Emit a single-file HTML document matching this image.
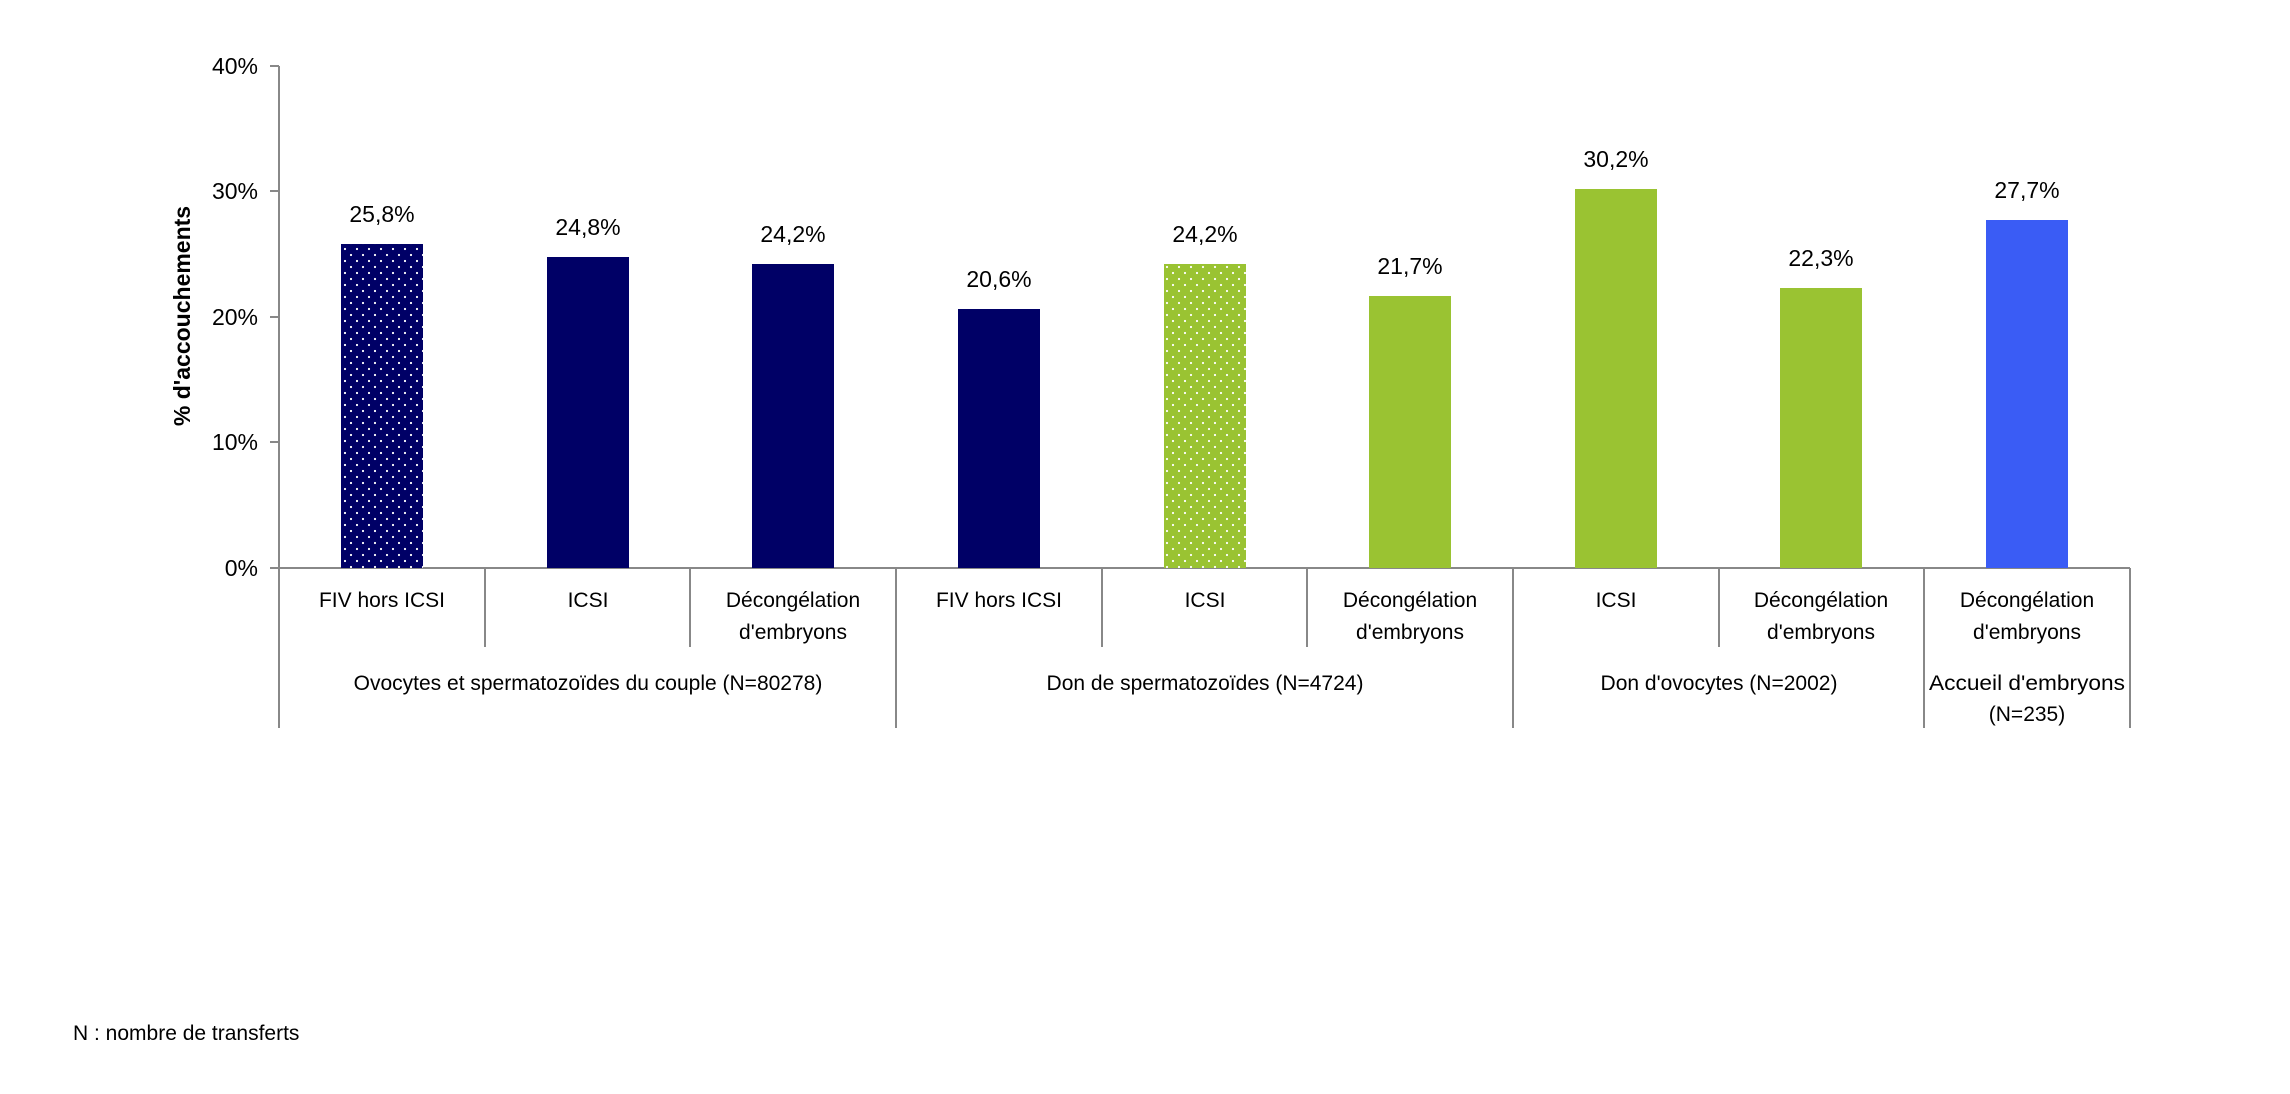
<!DOCTYPE html>
<html><head><meta charset="utf-8"><style>
html,body{margin:0;padding:0;background:#fff;width:2290px;height:1094px;overflow:hidden}
svg{display:block}
text{font-family:"Liberation Sans",sans-serif;fill:#000}
</style></head><body>
<svg width="2290" height="1094" viewBox="0 0 2290 1094" xmlns="http://www.w3.org/2000/svg">
<defs>
<pattern id="pn" width="12" height="12" patternUnits="userSpaceOnUse">
<rect width="12" height="12" fill="#000066"/>
<circle cx="3" cy="3" r="1.1" fill="#fff"/><circle cx="9" cy="9" r="1.1" fill="#fff"/>
</pattern>
<pattern id="pg" width="12" height="12" patternUnits="userSpaceOnUse">
<rect width="12" height="12" fill="#9AC332"/>
<circle cx="3" cy="3" r="1.1" fill="#fff"/><circle cx="9" cy="9" r="1.1" fill="#fff"/>
</pattern>
</defs>
<g stroke="#888" stroke-width="2" fill="none">
<line x1="279" y1="66" x2="279" y2="728"/>
<line x1="270" y1="66" x2="279" y2="66"/>
<line x1="270" y1="191" x2="279" y2="191"/>
<line x1="270" y1="317" x2="279" y2="317"/>
<line x1="270" y1="442" x2="279" y2="442"/>
<line x1="270" y1="568" x2="2130" y2="568"/>
<line x1="485" y1="568" x2="485" y2="647"/>
<line x1="690" y1="568" x2="690" y2="647"/>
<line x1="896" y1="568" x2="896" y2="728"/>
<line x1="1102" y1="568" x2="1102" y2="647"/>
<line x1="1307" y1="568" x2="1307" y2="647"/>
<line x1="1513" y1="568" x2="1513" y2="728"/>
<line x1="1719" y1="568" x2="1719" y2="647"/>
<line x1="1924" y1="568" x2="1924" y2="728"/>
<line x1="2130" y1="568" x2="2130" y2="728"/>
</g>
<g font-size="23" text-anchor="end">
<text x="258" y="74">40%</text>
<text x="258" y="199">30%</text>
<text x="258" y="325">20%</text>
<text x="258" y="450">10%</text>
<text x="258" y="576">0%</text>
</g>
<text x="0" y="0" font-size="23" font-weight="bold" text-anchor="middle" transform="translate(190,316) rotate(-90)">% d'accouchements</text>
<g>
<rect x="341" y="244" width="82" height="324" fill="url(#pn)"/>
<rect x="547" y="257" width="82" height="311" fill="#000066"/>
<rect x="752" y="264" width="82" height="304" fill="#000066"/>
<rect x="958" y="309" width="82" height="259" fill="#000066"/>
<rect x="1164" y="264" width="82" height="304" fill="url(#pg)"/>
<rect x="1369" y="296" width="82" height="272" fill="#9AC332"/>
<rect x="1575" y="189" width="82" height="379" fill="#9AC332"/>
<rect x="1780" y="288" width="82" height="280" fill="#9AC332"/>
<rect x="1986" y="220" width="82" height="348" fill="#3A5CF5"/>
</g>
<g font-size="23" text-anchor="middle">
<text x="382" y="222">25,8%</text>
<text x="588" y="235">24,8%</text>
<text x="793" y="242">24,2%</text>
<text x="999" y="287">20,6%</text>
<text x="1205" y="242">24,2%</text>
<text x="1410" y="274">21,7%</text>
<text x="1616" y="167">30,2%</text>
<text x="1821" y="266">22,3%</text>
<text x="2027" y="198">27,7%</text>
</g>
<g font-size="21" text-anchor="middle">
<text x="382" y="607">FIV hors ICSI</text>
<text x="588" y="607">ICSI</text>
<text x="793" y="607">Décongélation</text>
<text x="793" y="639">d'embryons</text>
<text x="999" y="607">FIV hors ICSI</text>
<text x="1205" y="607">ICSI</text>
<text x="1410" y="607">Décongélation</text>
<text x="1410" y="639">d'embryons</text>
<text x="1616" y="607">ICSI</text>
<text x="1821" y="607">Décongélation</text>
<text x="1821" y="639">d'embryons</text>
<text x="2027" y="607">Décongélation</text>
<text x="2027" y="639">d'embryons</text>
<text x="588" y="690">Ovocytes et spermatozoïdes du couple (N=80278)</text>
<text x="1205" y="690">Don de spermatozoïdes (N=4724)</text>
<text x="1719" y="690">Don d'ovocytes (N=2002)</text>
<text x="2027" y="690" textLength="196" lengthAdjust="spacingAndGlyphs">Accueil d'embryons</text>
<text x="2027" y="721">(N=235)</text>
</g>
<text x="73" y="1040" font-size="21">N : nombre de transferts</text>
</svg>
</body></html>
